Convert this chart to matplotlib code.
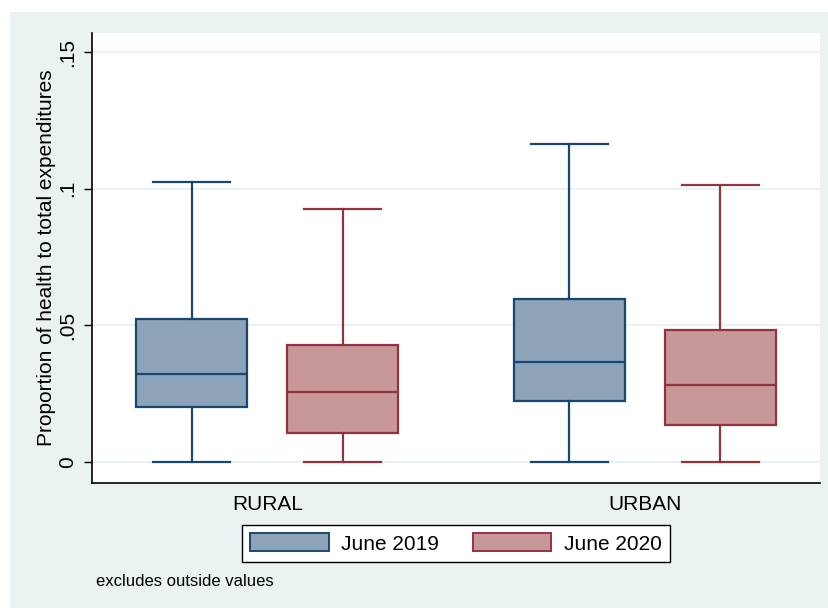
import matplotlib.pyplot as plt
from matplotlib.patches import Rectangle, Patch

plt.rcParams['font.family'] = ['Liberation Sans', 'DejaVu Sans']

areas = ["RURAL", "URBAN"]
periods = ["June 2019", "June 2020"]

# box statistics per area, one entry per period (lower whisker, q1, median, q3, upper whisker)
whislo = [[0.0, 0.0], [0.0, 0.0]]
q1 = [[0.0201, 0.0106], [0.0223, 0.0135]]
med = [[0.0322, 0.0256], [0.0366, 0.0282]]
q3 = [[0.0523, 0.0428], [0.0596, 0.0483]]
whishi = [[0.1024, 0.0925], [0.1163, 0.1013]]

edge_cols = ["#1a476f", "#90353b"]
fill_cols = ["#8da3b8", "#c7979a"]
bg = "#eaf2f3"

fig = plt.figure(figsize=(8.29, 6.08), dpi=100, facecolor="white")
fig.patches.append(Rectangle((10 / 829, 0), 1, 1 - 12 / 608, transform=fig.transFigure,
                             facecolor=bg, edgecolor="none", zorder=-10))
ax = fig.add_axes([92 / 829, 125 / 608, 728 / 829, 450 / 608])
ax.set_facecolor("white")

group_pos = [0.0, 2.5]
for g in range(len(areas)):
    for p in range(len(periods)):
        stats = [dict(whislo=whislo[g][p], q1=q1[g][p], med=med[g][p],
                      q3=q3[g][p], whishi=whishi[g][p], fliers=[])]
        c = edge_cols[p]
        ax.bxp(stats, positions=[group_pos[g] + p], widths=0.735, capwidths=0.51,
               patch_artist=True, showfliers=False,
               boxprops=dict(facecolor=fill_cols[p], edgecolor=c, linewidth=1.6),
               medianprops=dict(color=c, linewidth=1.6),
               whiskerprops=dict(color=c, linewidth=1.6),
               capprops=dict(color=c, linewidth=1.6))

ax.set_xlim(-0.662, 4.159)
ax.set_ylim(-0.0077, 0.157)
ax.set_yticks([0, 0.05, 0.1, 0.15])
ax.set_yticklabels(["0", ".05", ".1", ".15"], rotation=90, va="center", fontsize=15)
ax.yaxis.grid(True, color=bg, linewidth=1.5)
ax.set_axisbelow(True)
ax.set_xticks([g + 0.5 for g in group_pos])
ax.set_xticklabels(areas, fontsize=15)
ax.tick_params(axis="x", length=0, pad=9)
ax.tick_params(axis="y", length=6, width=1, pad=5)
for s in ["top", "right"]:
    ax.spines[s].set_visible(False)
for s in ["left", "bottom"]:
    ax.spines[s].set_linewidth(1.2)
ax.set_ylabel("Proportion of health to total expenditures", fontsize=15, labelpad=1)

handles = [Patch(facecolor=fill_cols[i], edgecolor=edge_cols[i], linewidth=1.4, label=periods[i])
           for i in range(len(periods))]
leg = fig.legend(handles=handles, loc="center", bbox_to_anchor=(456 / 829, 1 - 543.5 / 608),
                 ncol=2, fontsize=15, frameon=True, fancybox=False, framealpha=1,
                 handlelength=3.75, handleheight=0.95, handletextpad=0.62,
                 columnspacing=1.6, borderpad=0.4)
leg.get_frame().set_edgecolor("black")
leg.get_frame().set_linewidth(1.0)

fig.text(96 / 829, 1 - 581 / 608, "excludes outside values", fontsize=12, va="center")

fig.savefig("out.png", dpi=100)
